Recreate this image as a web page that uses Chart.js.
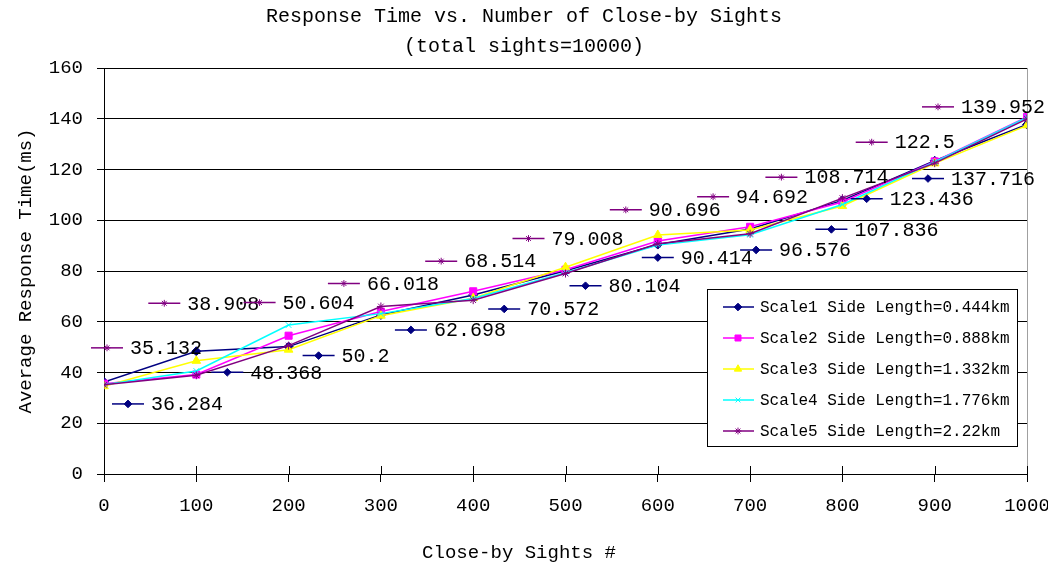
<!DOCTYPE html>
<html><head><meta charset="utf-8">
<script src="https://cdn.jsdelivr.net/npm/chart.js@4/dist/chart.umd.min.js"></script>
<style>html,body{margin:0;padding:0;background:#fff}#wrap{width:1048px;height:570px}</style>
</head><body><div id="wrap"><canvas id="c" width="1048" height="570"></canvas></div>
<script>
// ---- data ----
const sightCounts = [0, 100, 200, 300, 400, 500, 600, 700, 800, 900, 1000];
const scale1 = [36.284, 48.368, 50.2, 62.698, 70.572, 80.104, 90.414, 96.576, 107.836, 123.436, 137.716];
const scale2 = [35.6, 39.2, 54.5, 64.0, 72.0, 80.5, 91.8, 97.4, 107.2, 123.2, 140.7];
const scale3 = [34.6, 44.6, 49.0, 62.4, 69.3, 81.5, 94.2, 96.2, 105.6, 122.4, 137.4];
const scale4 = [35.2, 40.6, 58.7, 63.2, 69.2, 79.3, 90.2, 94.3, 106.2, 123.0, 140.5];
const scale5 = [35.132, 38.908, 50.604, 66.018, 68.514, 79.008, 90.696, 94.692, 108.714, 122.5, 139.952];
const seriesNames = [
  'Scale1 Side Length=0.444km',
  'Scale2 Side Length=0.888km',
  'Scale3 Side Length=1.332km',
  'Scale4 Side Length=1.776km',
  'Scale5 Side Length=2.22km'
];
const titleLines = ['Response Time vs. Number of Close-by Sights', '(total sights=10000)'];
const xAxisTitle = 'Close-by Sights #';
const yAxisTitle = 'Average Response Time(ms)';
const yMin = 0, yMax = 160, yStep = 20;
const xMin = 0, xMax = 1000, xStep = 100;

// ---- label placement (pixel offsets of the label key from its point) ----
const label1Offsets = [[24,22],[31,21],[30,9],[30,15],[31,14],[20,15],[0,13],[6,21],[-11,29],[-68,38],[-99,54]];
const label5Offsets = [[3,-37],[-32,-72],[-29,-43],[-37,-23],[-32,-39],[-37,-35],[-32,-34],[-37,-37],[-61,-21],[-63,-21],[-89,-12]];

const FONT = '"Liberation Mono", "DejaVu Sans Mono", monospace';

function toXY(vals) { return sightCounts.map((x, i) => ({x: x, y: vals[i]})); }

const styles = [
  {color: '#000080', pointStyle: 'rectRot', radius: 4.5},
  {color: '#FF00FF', pointStyle: 'rect', radius: 5},
  {color: '#FFFF00', pointStyle: 'triangle', radius: 5},
  {color: '#00FFFF', pointStyle: 'crossRot', radius: 4},
  {color: '#800080', pointStyle: 'star', radius: 4}
];
const seriesValues = [scale1, scale2, scale3, scale4, scale5];
const labelOffsets = [label1Offsets, null, null, null, label5Offsets];

const datasets = seriesValues.map((vals, i) => ({
  label: seriesNames[i],
  data: toXY(vals),
  borderColor: styles[i].color,
  backgroundColor: styles[i].color,
  pointBackgroundColor: styles[i].color,
  pointBorderColor: styles[i].color,
  pointStyle: styles[i].pointStyle,
  pointRadius: styles[i].radius,
  pointBorderWidth: 1,
  borderWidth: 1.5,
  tension: 0,
  order: 4 - i,
  valueLabelOffsets: labelOffsets[i]
}));

function marker(ctx, style, r, color, x, y) {
  if (Chart.helpers && Chart.helpers.drawPoint) {
    ctx.save();
    ctx.fillStyle = color; ctx.strokeStyle = color; ctx.lineWidth = 1;
    Chart.helpers.drawPoint(ctx, {pointStyle: style, radius: r, rotation: 0, borderWidth: 1}, x, y);
    ctx.restore();
  }
}

const extras = {
  id: 'extras',
  beforeDatasetsDraw(chart) {
    const ctx = chart.ctx, a = chart.chartArea, xs = chart.scales.x;
    ctx.save();
    ctx.strokeStyle = '#a0a0a0'; ctx.lineWidth = 1;
    ctx.beginPath(); ctx.moveTo(a.right + 0.5, a.top); ctx.lineTo(a.right + 0.5, a.bottom); ctx.stroke();
    ctx.strokeStyle = '#000';
    for (const v of sightCounts) {
      const px = Math.round(xs.getPixelForValue(v)) + 0.5;
      ctx.beginPath(); ctx.moveTo(px, a.bottom); ctx.lineTo(px, a.bottom - 8); ctx.stroke();
    }
    ctx.restore();
  },
  afterDatasetsDraw(chart) {
    const ctx = chart.ctx;
    ctx.save();
    chart.data.datasets.forEach((ds, di) => {
      const offs = ds.valueLabelOffsets;
      if (!offs) return;
      const meta = chart.getDatasetMeta(di);
      meta.data.forEach((pt, i) => {
        const mx = pt.x + offs[i][0], my = pt.y + offs[i][1];
        ctx.strokeStyle = ds.borderColor; ctx.lineWidth = 1.5;
        ctx.beginPath(); ctx.moveTo(mx - 16, my); ctx.lineTo(mx + 16, my); ctx.stroke();
        marker(ctx, ds.pointStyle, ds.pointRadius * 0.85, ds.borderColor, mx, my);
        ctx.fillStyle = '#000';
        ctx.font = '20px ' + FONT;
        ctx.textAlign = 'left'; ctx.textBaseline = 'middle';
        ctx.fillText(String(ds.data[i].y), mx + 23, my + 1);
      });
    });
    ctx.restore();
  },
  afterDraw(chart) {
    const ctx = chart.ctx, a = chart.chartArea;
    const w = 310, h = 157;
    const left = a.right - 10 - w, top = a.bottom - 28 - h;
    ctx.save();
    ctx.fillStyle = '#fff'; ctx.fillRect(left, top, w, h);
    ctx.strokeStyle = '#000'; ctx.lineWidth = 1;
    ctx.strokeRect(Math.round(left) + 0.5, Math.round(top) + 0.5, w, h);
    ctx.font = '16px ' + FONT;
    ctx.textAlign = 'left'; ctx.textBaseline = 'middle';
    chart.data.datasets.forEach((ds, i) => {
      const y = top + 18 + i * 31;
      ctx.strokeStyle = ds.borderColor; ctx.lineWidth = 1.5;
      ctx.beginPath(); ctx.moveTo(left + 16, y); ctx.lineTo(left + 47, y); ctx.stroke();
      marker(ctx, ds.pointStyle, ds.pointRadius * 0.85, ds.borderColor, left + 31, y);
      ctx.fillStyle = '#000';
      ctx.fillText(ds.label, left + 53, y + 1);
    });
    // x-axis title (centred on the whole figure, as in the original)
    ctx.font = '19px ' + FONT;
    ctx.textAlign = 'center'; ctx.textBaseline = 'middle';
    ctx.fillStyle = '#000';
    ctx.fillText(xAxisTitle, chart.width / 2 - 5, 553);
    ctx.restore();
  }
};

new Chart(document.getElementById('c'), {
  type: 'line',
  data: {datasets: datasets},
  plugins: [extras],
  options: {
    responsive: false,
    devicePixelRatio: 1,
    animation: false,
    layout: {padding: 0},
    plugins: {
      legend: {display: false},
      tooltip: {enabled: false},
      title: {
        display: true,
        text: titleLines,
        color: '#000',
        font: {family: FONT, size: 20, weight: 'normal', lineHeight: 1.5},
        padding: {top: 2, bottom: 6}
      }
    },
    scales: {
      x: {
        type: 'linear',
        min: xMin, max: xMax,
        afterFit(s) { s.height = 96; s.paddingRight = 21; s.paddingLeft = 0; },
        ticks: {stepSize: xStep, color: '#000', font: {family: FONT, size: 19}, padding: 13, maxRotation: 0,
                callback: (v) => String(v)},
        grid: {display: true, drawOnChartArea: false, color: '#000', tickLength: 8, tickColor: '#000'},
        border: {display: true, color: '#000', width: 1},
        title: {display: false}
      },
      y: {
        min: yMin, max: yMax,
        afterFit(s) { s.width = 104; },
        ticks: {stepSize: yStep, color: '#000', font: {family: FONT, size: 19}, padding: 14},
        grid: {color: '#000', lineWidth: 1, tickLength: 7, tickColor: '#000'},
        border: {display: true, color: '#000', width: 1},
        title: {display: true, text: yAxisTitle, color: '#000', font: {family: FONT, size: 19}, padding: {top: 15, bottom: 0}}
      }
    }
  }
});
</script></body></html>
